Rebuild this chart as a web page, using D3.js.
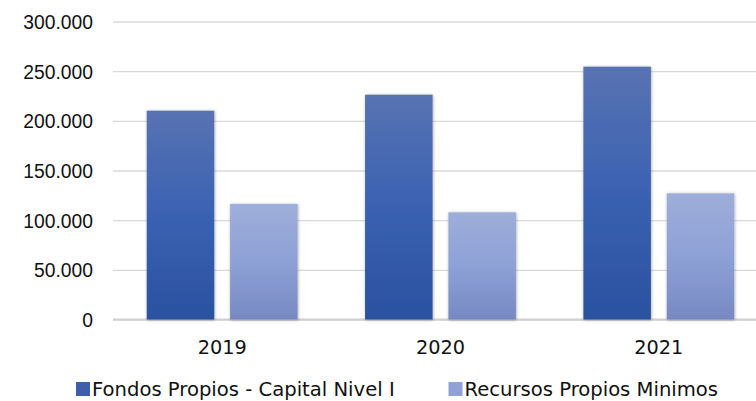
<!DOCTYPE html>
<html>
<head>
<meta charset="utf-8">
<script src="https://cdn.jsdelivr.net/npm/d3@7"></script>
<style>
  html, body { margin: 0; padding: 0; background: #fff; }
  svg { display: block; font-family: "DejaVu Sans", Verdana, sans-serif; }
</style>
</head>
<body>
<div id="chart"></div>
<script>
// values
const years = ["2019", "2020", "2021"];
const fondosPropios = [210200, 226300, 254500];
const recursosMinimos = [116300, 107900, 127000];
const seriesNames = ["Fondos Propios - Capital Nivel I", "Recursos Propios Minimos"];
const yTicks = [0, 50000, 100000, 150000, 200000, 250000, 300000];

const width = 756, height = 401;
const plot = { left: 113, right: 768, top: 21.5, bottom: 319.5 };

const svg = d3.select("#chart").append("svg")
  .attr("width", width)
  .attr("height", height);

const defs = svg.append("defs");

// vertical gradients for the two series
const grads = [
  { id: "g0", stops: ["#5873b2", "#3a62b2", "#2a519f"] },
  { id: "g1", stops: ["#9eaeda", "#8ea1d6", "#7789c2"] }
];
grads.forEach((g) => {
  const lg = defs.append("linearGradient")
    .attr("id", g.id)
    .attr("x1", 0).attr("y1", 0).attr("x2", 0).attr("y2", 1);
  g.stops.forEach((c, i) => {
    lg.append("stop")
      .attr("offset", i / (g.stops.length - 1))
      .attr("stop-color", c);
  });
});

const shadow = defs.append("filter")
  .attr("id", "shadow")
  .attr("x", "-20%").attr("y", "-10%")
  .attr("width", "140%").attr("height", "120%");
shadow.append("feDropShadow")
  .attr("dx", 0.5).attr("dy", 0.5)
  .attr("stdDeviation", 1.8)
  .attr("flood-color", "#000")
  .attr("flood-opacity", 0.35);

const locale = d3.formatLocale({ decimal: ",", thousands: ".", grouping: [3], currency: ["", "€"] });
const fmt = locale.format(",.0f");

const y = d3.scaleLinear().domain([0, 300000]).range([plot.bottom, plot.top]);

const x0 = d3.scaleBand()
  .domain(years)
  .range([plot.left, plot.right])
  .paddingInner(0.309)
  .paddingOuter(0.1545);

const x1 = d3.scaleBand()
  .domain(seriesNames)
  .range([0, x0.bandwidth()])
  .paddingInner(0.19);

// y axis with gridlines
const yAxis = svg.append("g")
  .attr("transform", `translate(${plot.left},0)`)
  .call(d3.axisLeft(y)
    .tickValues(yTicks)
    .tickFormat(fmt)
    .tickSize(-(plot.right - plot.left))
    .tickPadding(20));

yAxis.select(".domain").remove();
yAxis.selectAll(".tick line")
  .attr("stroke", "#d9d9d9")
  .attr("stroke-width", 1.3);
yAxis.selectAll(".tick text")
  .attr("fill", "#111")
  .style("font-size", "19.3px")
  .attr("dy", "0.36em");

// baseline
svg.append("line")
  .attr("x1", plot.left).attr("x2", plot.right)
  .attr("y1", y(0)).attr("y2", y(0))
  .attr("stroke", "#d0d0d0")
  .attr("stroke-width", 2);

// bars
const rows = years.map((yr, i) => ({
  year: yr,
  values: [fondosPropios[i], recursosMinimos[i]]
}));

const groups = svg.append("g")
  .selectAll("g")
  .data(rows)
  .join("g")
  .attr("transform", (d) => `translate(${x0(d.year)},0)`);

groups.selectAll("rect")
  .data((d) => d.values.map((v, k) => ({ name: seriesNames[k], value: v, k: k })))
  .join("rect")
  .attr("x", (d) => x1(d.name))
  .attr("width", x1.bandwidth())
  .attr("y", (d) => y(d.value))
  .attr("height", (d) => y(0) - y(d.value))
  .attr("fill", (d) => `url(#g${d.k})`)
  .attr("filter", "url(#shadow)");

// x labels
svg.append("g")
  .selectAll("text")
  .data(years)
  .join("text")
  .attr("x", (d) => x0(d) + x0.bandwidth() / 2)
  .attr("y", 353.5)
  .attr("text-anchor", "middle")
  .attr("fill", "#111")
  .style("font-size", "19.3px")
  .text((d) => d);

// legend (nudged up a little so descenders stay inside the frame)
const legendColors = ["#3c60ad", "#8fa1d5"];
const legendX = [76, 448.5];
const legend = svg.append("g")
  .selectAll("g")
  .data(seriesNames)
  .join("g")
  .attr("transform", (d, i) => `translate(${legendX[i]},0)`);

legend.append("rect")
  .attr("x", 0).attr("y", 382)
  .attr("width", 14).attr("height", 14)
  .attr("fill", (d, i) => legendColors[i]);

legend.append("text")
  .attr("x", 16)
  .attr("y", 396)
  .attr("fill", "#111")
  .style("font-size", "19.6px")
  .text((d) => d);
</script>
</body>
</html>
